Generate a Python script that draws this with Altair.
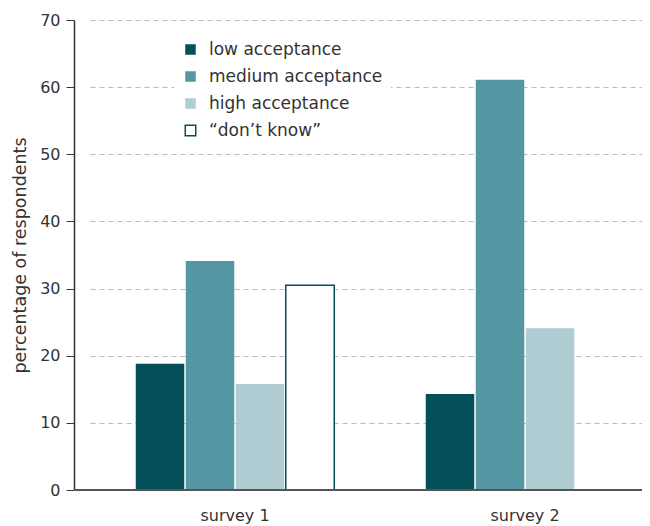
import altair as alt
import pandas as pd

surveys = ["survey 1", "survey 2"]
categories = ["low acceptance", "medium acceptance", "high acceptance", "\u201cdon\u2019t know\u201d"]
survey1_values = [18.8, 34.1, 15.8, 30.5]
survey2_values = [14.3, 61.1, 24.1]
fill_colors = ["#034f5a", "#5496a1", "#b0cdd3", "#ffffff"]
stroke_colors = ["transparent", "transparent", "transparent", "#034f5a"]
y_ticks = [0, 10, 20, 30, 40, 50, 60, 70]

rows = []
for s, vals in zip(surveys, [survey1_values, survey2_values]):
    for c, v in zip(categories, vals):
        rows.append({"survey": s, "category": c, "value": v})
df = pd.DataFrame(rows)

legend_cfg = dict(
    title=None,
    orient="none",
    legendX=100,
    legendY=13,
    fillColor="white",
    padding=8,
    symbolType="square",
    symbolSize=110,
    symbolStrokeWidth=1.5,
    labelFontSize=17,
    labelColor="#333",
    labelOffset=10,
    labelLimit=0,
    rowPadding=9,
)

bars = alt.Chart(df).mark_bar(strokeWidth=1.5).encode(
    x=alt.X(
        "survey:N",
        sort=surveys,
        scale=alt.Scale(range=[16, 596], paddingInner=0, paddingOuter=0),
        axis=alt.Axis(
            title=None, labelAngle=0, ticks=False, domain=False,
            labelFontSize=16, labelPadding=17,
            labelColor="#333", grid=False,
        ),
    ),
    xOffset=alt.XOffset(
        "category:N", sort=categories,
        scale=alt.Scale(domain=categories, paddingInner=0.03, paddingOuter=0.915),
    ),
    y=alt.Y(
        "value:Q",
        scale=alt.Scale(domain=[0, 70], nice=False),
        axis=alt.Axis(
            title="percentage of respondents", values=y_ticks, tickSize=8,
            tickColor="#333", domainColor="#333", domainWidth=1.5,
            labelFontSize=16, labelColor="#333", labelPadding=6,
            titleFontSize=17.5, titleColor="#333", titleFontWeight="normal",
            titlePadding=10, grid=True, gridDash=[5, 4], gridColor="#bbbbbb",
            gridWidth=1,
        ),
    ),
    fill=alt.Fill(
        "category:N", sort=categories,
        scale=alt.Scale(domain=categories, range=fill_colors),
        legend=alt.Legend(**legend_cfg),
    ),
    stroke=alt.Stroke(
        "category:N", sort=categories,
        scale=alt.Scale(domain=categories, range=stroke_colors),
        legend=alt.Legend(**legend_cfg),
    ),
)

baseline = alt.Chart(pd.DataFrame({"v": [0]})).mark_rule(
    color="#555", strokeWidth=2
).encode(
    x=alt.value(0),
    x2=alt.value(568),
    y=alt.Y("v:Q"),
)

chart = alt.layer(bars, baseline).properties(
    width=568,
    height=470,
    autosize=alt.AutoSizeParams(type="none"),
    padding={"left": 66, "top": 12, "right": 0, "bottom": 36},
).configure(
    font="DejaVu Sans",
).configure_view(stroke=None)

chart.save("out.html", embed_options={"renderer": "svg", "actions": False})
